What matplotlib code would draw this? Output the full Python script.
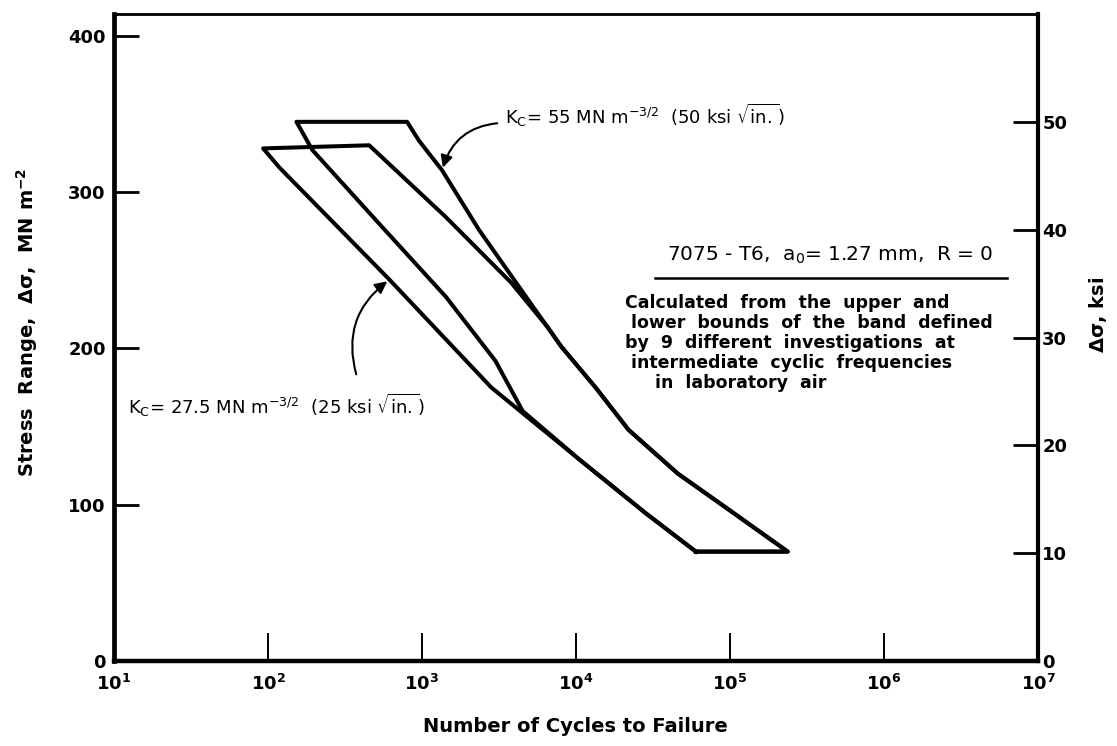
import matplotlib.pyplot as plt
from matplotlib.ticker import NullLocator

# === Data (N = cycles, S = stress range in MN m^-2) ===
# Kc = 27.5 MN m^-3/2 band: lower bound (left edge) and upper bound (right edge)
kc27_lower_N = [93, 118, 615, 2820, 10500, 28000, 60000]
kc27_lower_S = [328, 316, 244, 175, 129, 95, 70]
kc27_upper_N = [454, 1430, 3800, 6500, 8050, 13400, 21900, 45700, 97700, 237000]
kc27_upper_S = [330, 284, 242, 214, 201, 175, 148, 120, 97, 70]

# Kc = 55 MN m^-3/2 band
kc55_lower_N = [153, 194, 525, 1430, 3000, 4500, 10500, 28000, 60000]
kc55_lower_S = [345, 327, 280, 233, 192, 160, 129, 95, 70]
kc55_upper_N = [800, 955, 1350, 2340, 4900, 8050, 13400, 21900, 45700, 97700, 237000]
kc55_upper_S = [345, 333, 314, 276, 231, 201, 175, 148, 120, 97, 70]

x_decades = [1, 2, 3, 4, 5, 6, 7]
y_ticks_mn = [0, 100, 200, 300, 400]
y_ticks_ksi = [0, 10, 20, 30, 40, 50]
KSI_PER_MPA = 1 / 6.895

W, H = 1117, 746
plt.rcParams['font.family'] = ['DejaVu Sans']
plt.rcParams['mathtext.fontset'] = 'dejavusans'

fig = plt.figure(figsize=(W / 100, H / 100), dpi=100)
ax = fig.add_axes([114 / W, 1 - 661 / H, (1038 - 114) / W, (661 - 14) / H])


def px(x, y):
    # pixel position (from top-left) -> figure fraction
    return x / W, 1 - y / H


# === Closed bands: left edge up, top edge, right edge down, flat bottom ===
def band(lo_N, lo_S, up_N, up_S):
    N = lo_N[::-1] + up_N + [lo_N[-1]]
    S = lo_S[::-1] + up_S + [lo_S[-1]]
    return N, S


for lo_N, lo_S, up_N, up_S in [(kc27_lower_N, kc27_lower_S, kc27_upper_N, kc27_upper_S),
                               (kc55_lower_N, kc55_lower_S, kc55_upper_N, kc55_upper_S)]:
    N, S = band(lo_N, lo_S, up_N, up_S)
    ax.plot(N, S, color='black', lw=2.9, solid_joinstyle='round')

# === Axes ===
ax.set_xscale('log')
ax.set_xlim(10, 1e7)
ax.set_ylim(0, 414)
ax.set_xticks([10.0 ** k for k in x_decades])
ax.set_xticklabels([r'$\mathbf{10^{%d}}$' % k for k in x_decades], fontsize=13)
ax.xaxis.set_minor_locator(NullLocator())
ax.set_yticks(y_ticks_mn)
ax.set_yticklabels([str(v) for v in y_ticks_mn], fontsize=13, fontweight='bold')
ax.tick_params(axis='x', direction='in', length=20, width=1.4, pad=9)
ax.tick_params(axis='y', direction='in', length=18, width=2.0, pad=6)

for side, lw in [('left', 3.4), ('bottom', 3.2), ('right', 3.0), ('top', 2.0)]:
    ax.spines[side].set_linewidth(lw)

ax2 = ax.twinx()
ax2.set_ylim(0, 414 * KSI_PER_MPA)
ax2.set_yticks(y_ticks_ksi)
ax2.set_yticklabels([str(v) for v in y_ticks_ksi], fontsize=13, fontweight='bold')
ax2.tick_params(axis='y', direction='in', length=18, width=2.0, pad=3)
for s in ax2.spines.values():
    s.set_visible(False)

# === Axis titles ===
fig.text(*px(575, 727), 'Number of Cycles to Failure', ha='center', va='center',
         fontsize=14, fontweight='bold')
fig.text(*px(27, 322), r'Stress  Range,  $\mathbf{\Delta\sigma}$,  MN m$^{\mathbf{-2}}$',
         rotation=90, ha='center', va='center', fontsize=14, fontweight='bold')
fig.text(*px(1098, 315), r'$\mathbf{\Delta\sigma}$, ksi', rotation=90,
         ha='center', va='center', fontsize=14, fontweight='bold')

# === Band labels with arrows ===
fig.text(*px(505, 115), r'K$_\mathrm{C}$= 55 MN m$^{-3/2}$  (50 ksi $\sqrt{\mathrm{in.}}$)',
         ha='left', va='center', fontsize=13)
ax.annotate('', xy=(kc55_upper_N[2], kc55_upper_S[2]), xycoords='data',
            xytext=(500, H - 123), textcoords='figure pixels',
            arrowprops=dict(arrowstyle='-|>', color='black', lw=1.5,
                            mutation_scale=18, connectionstyle='arc3,rad=0.35'))

fig.text(*px(128, 405), r'K$_\mathrm{C}$= 27.5 MN m$^{-3/2}$  (25 ksi $\sqrt{\mathrm{in.}}$)',
         ha='left', va='center', fontsize=13)
ax.annotate('', xy=(kc27_lower_N[2], kc27_lower_S[2]), xycoords='data',
            xytext=(357, H - 377), textcoords='figure pixels',
            arrowprops=dict(arrowstyle='-|>', color='black', lw=1.5,
                            mutation_scale=18, connectionstyle='arc3,rad=-0.35'))

# === Notes ===
fig.text(*px(667, 255), r'7075 - T6,  a$_0$= 1.27 mm,  R = 0',
         ha='left', va='center', fontsize=14.5)
fig.add_artist(plt.Line2D([655 / W, 1007 / W], [1 - 278 / H, 1 - 278 / H],
                          color='black', lw=1.8))

note_lines = ['Calculated  from  the  upper  and',
              ' lower  bounds  of  the  band  defined',
              'by  9  different  investigations  at',
              ' intermediate  cyclic  frequencies',
              '     in  laboratory  air']
for i, line in enumerate(note_lines):
    fig.text(*px(625, 303 + 20 * i), line, ha='left', va='center',
             fontsize=12.5, fontweight='bold')

fig.savefig('out.png', dpi=100)
